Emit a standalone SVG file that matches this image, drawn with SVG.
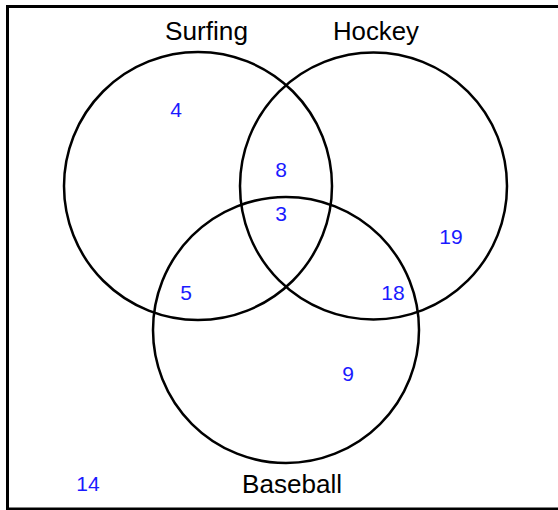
<svg xmlns="http://www.w3.org/2000/svg" width="558" height="510" viewBox="0 0 558 510">
<style>
.set{fill:none;stroke:#000;stroke-width:2.5}
.lab{font-family:"Liberation Sans",Arial,sans-serif;font-size:25px;fill:#000;text-anchor:middle}
.num{font-family:"Liberation Sans",Arial,sans-serif;font-size:21px;fill:#1a1aff;text-anchor:middle}
</style>
<rect x="0" y="0" width="558" height="510" fill="#fff"/>
<rect x="7.5" y="6.5" width="560" height="502.5" fill="none" stroke="#000" stroke-width="3"/>
<g id="surfing">
<circle class="set" cx="198" cy="186" r="134"/>
<text class="lab" x="206.5" y="40" textLength="83" lengthAdjust="spacingAndGlyphs">Surfing</text>
</g>
<g id="hockey">
<circle class="set" cx="373.5" cy="186" r="133.5"/>
<text class="lab" x="376" y="40" textLength="86" lengthAdjust="spacingAndGlyphs">Hockey</text>
</g>
<g id="baseball">
<circle class="set" cx="286" cy="330" r="133"/>
<text class="lab" x="292" y="493" textLength="100" lengthAdjust="spacingAndGlyphs">Baseball</text>
</g>
<g id="counts">
<text class="num" x="176" y="117">4</text>
<text class="num" x="281" y="177">8</text>
<text class="num" x="281" y="221">3</text>
<text class="num" x="186" y="300">5</text>
<text class="num" x="393" y="300">18</text>
<text class="num" x="451" y="244">19</text>
<text class="num" x="348" y="381">9</text>
<text class="num" x="88" y="491">14</text>
</g>
</svg>
